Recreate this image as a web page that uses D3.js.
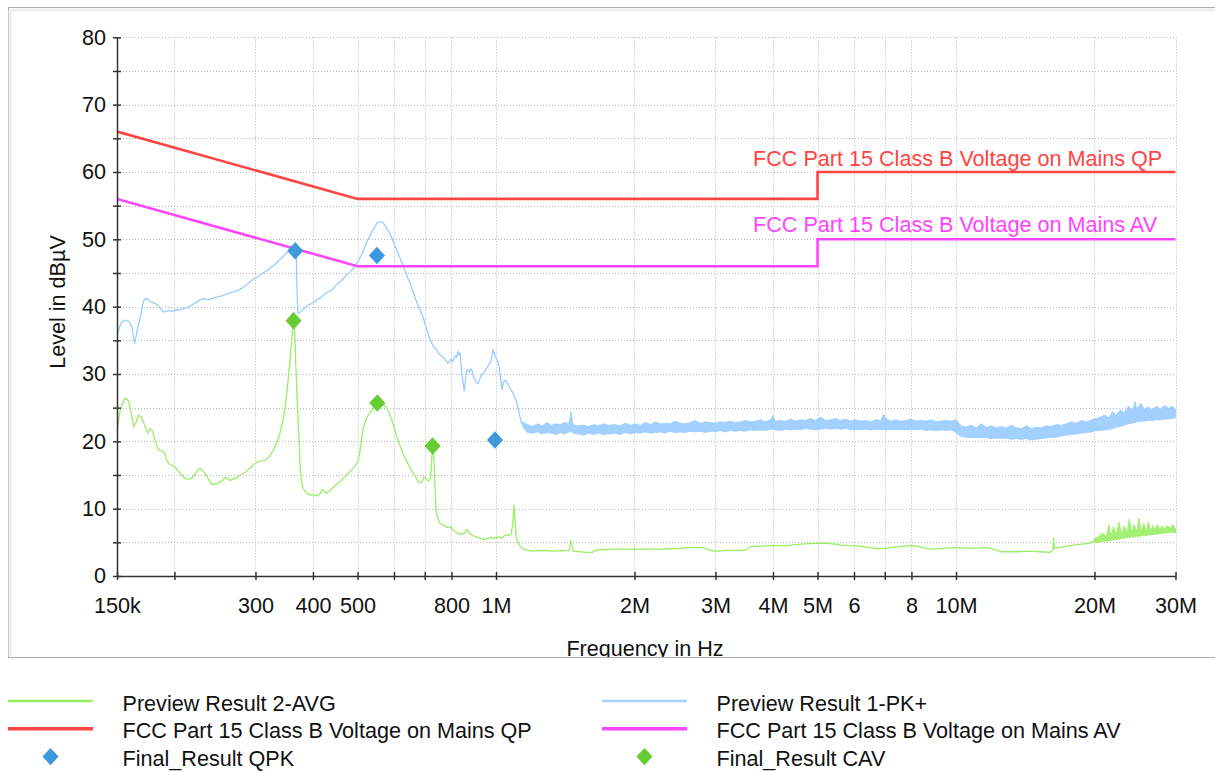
<!DOCTYPE html>
<html>
<head>
<meta charset="utf-8">
<script src="https://cdn.jsdelivr.net/npm/d3@7"></script>
<style>
html, body { margin: 0; padding: 0; background: #ffffff; }
svg { display: block; font-family: "Liberation Sans", Arial, sans-serif; }
</style>
</head>
<body>
<svg id="chart" width="1215" height="771"></svg>
<script>
// ---- Data (frequency in MHz, level in dBµV) ----

// Peak preview scan, smooth low-frequency part
const pkTrace = [
  [0.150,35.7],[0.152,37.0],[0.154,37.8],[0.156,38.0],[0.158,37.9],[0.160,37.7],[0.162,36.8],[0.163,35.2],
  [0.164,34.7],[0.166,36.5],[0.169,38.8],[0.171,40.6],[0.172,41.1],[0.174,41.2],[0.176,40.9],[0.178,40.7],
  [0.181,40.5],[0.184,40.2],[0.186,39.9],[0.188,39.4],[0.190,39.2],[0.194,39.4],[0.197,39.3],[0.201,39.5],
  [0.205,39.5],[0.209,39.7],[0.214,39.9],[0.219,40.3],[0.223,40.6],[0.227,41.0],[0.231,41.2],[0.235,41.0],
  [0.239,41.1],[0.244,41.3],[0.249,41.5],[0.254,41.6],[0.258,41.8],[0.263,42.0],[0.268,42.2],[0.273,42.3],
  [0.278,42.6],[0.284,43.0],[0.290,43.5],[0.296,44.0],[0.303,44.4],[0.310,44.9],[0.317,45.3],[0.324,45.8],
  [0.331,46.3],[0.338,46.9],[0.344,47.4],[0.350,47.9],[0.356,48.4],[0.361,48.8],[0.365,49.0],[0.368,48.6],
  [0.369,43.0],[0.371,39.2],[0.373,39.0],[0.378,39.4],[0.384,39.8],[0.390,40.2],[0.396,40.4],[0.402,40.7],
  [0.408,41.0],[0.415,41.3],[0.422,41.7],[0.429,42.1],[0.436,42.3],[0.442,42.6],[0.449,43.2],[0.456,43.6],
  [0.463,44.0],[0.470,44.5],[0.476,44.9],[0.482,45.2],[0.490,45.7],[0.497,46.4],[0.504,47.0],[0.511,47.8],
  [0.518,48.8],[0.524,49.6],[0.531,50.4],[0.538,51.2],[0.546,51.9],[0.551,52.4],[0.556,52.6],[0.562,52.6],
  [0.568,52.5],[0.574,52.0],[0.581,51.4],[0.588,50.9],[0.596,49.9],[0.604,48.9],[0.611,48.1],[0.618,47.3],
  [0.626,46.3],[0.634,45.3],[0.642,44.4],[0.650,43.5],[0.659,42.4],[0.667,41.3],[0.675,40.4],[0.684,39.5],
  [0.693,38.6],[0.700,37.6],[0.707,36.6],[0.713,35.9],[0.719,35.2],[0.725,34.6],[0.731,34.1],[0.737,33.8],
  [0.745,33.5],[0.752,33.0],[0.760,32.7],[0.768,32.5],[0.775,32.1],[0.781,31.9],[0.786,31.6],[0.792,31.9],
  [0.798,32.2],[0.804,31.8],[0.810,32.3],[0.815,32.7],[0.821,32.5],[0.827,33.3],[0.831,32.9],[0.835,33.1],
  [0.839,31.5],[0.843,30.1],[0.849,28.5],[0.853,27.4],[0.858,29.0],[0.863,30.5],[0.869,30.6],[0.875,30.3],
  [0.881,30.8],[0.887,30.5],[0.893,29.5],[0.900,29.1],[0.907,28.7],[0.914,28.6],[0.921,29.2],[0.929,29.8],
  [0.937,30.1],[0.946,30.4],[0.955,30.9],[0.963,31.3],[0.971,31.6],[0.978,32.3],[0.985,33.6],[0.990,33.2],
  [0.996,32.6],[1.000,32.4],[1.007,32.0],[1.015,31.3],[1.022,29.5],[1.031,27.6],[1.038,28.8],[1.046,29.1],
  [1.054,28.9],[1.062,28.5],[1.070,28.0],[1.078,27.6],[1.089,27.2],[1.100,26.4],[1.111,25.7],[1.120,24.5],
  [1.128,23.6],[1.134,22.9],[1.140,22.6]
];

// Peak preview scan, dense noise floor above 1.14 MHz: [MHz, min, max]
const pkNoiseBand = [
  [1.14,22.3,22.9],[1.17,21.3,22.5],[1.20,21.2,22.2],[1.23,21.4,22.6],[1.26,21.1,22.3],[1.29,21.3,22.8],
  [1.32,21.2,22.4],[1.35,21.0,22.6],[1.38,21.3,22.5],[1.41,21.1,22.8],[1.44,21.4,22.6],[1.455,21.5,24.4],
  [1.47,21.2,22.5],[1.51,21.1,22.3],[1.55,20.9,22.4],[1.59,21.2,22.2],[1.63,21.0,22.5],[1.67,21.2,22.3],
  [1.71,21.0,22.6],[1.76,21.1,22.4],[1.81,21.2,22.5],[1.86,21.0,22.3],[1.91,21.3,22.7],[1.96,21.1,22.4],
  [2.01,21.3,22.6],[2.06,21.2,22.4],[2.11,21.4,22.8],[2.17,21.2,22.5],[2.22,21.3,22.9],[2.28,21.4,22.6],
  [2.33,21.2,22.7],[2.39,21.5,22.6],[2.45,21.3,23.0],[2.52,21.4,22.7],[2.58,21.3,22.6],[2.64,21.5,22.8],
  [2.71,21.4,23.1],[2.78,21.5,22.7],[2.85,21.3,22.9],[2.92,21.5,22.8],[3.00,21.4,22.7],[3.07,21.6,22.9],
  [3.15,21.4,22.8],[3.23,21.6,23.0],[3.31,21.5,22.8],[3.40,21.6,22.9],[3.48,21.5,23.1],[3.57,21.7,22.9],
  [3.66,21.6,23.0],[3.76,21.7,23.2],[3.85,21.6,22.9],[3.95,21.8,23.2],[4.00,21.8,23.8],[4.05,21.7,23.0],
  [4.15,21.6,23.1],[4.26,21.8,23.0],[4.37,21.7,23.3],[4.48,21.8,23.0],[4.59,21.7,23.2],[4.71,21.9,23.1],
  [4.83,21.8,23.4],[4.95,21.7,23.1],[5.08,21.8,23.6],[5.21,21.9,23.1],[5.34,21.8,23.2],[5.48,21.9,23.4],
  [5.61,21.8,23.1],[5.76,21.9,23.3],[5.90,21.7,23.0],[6.05,21.8,23.2],[6.21,21.7,23.0],[6.37,21.8,23.1],
  [6.53,21.7,22.9],[6.69,21.8,23.2],[6.86,21.7,23.1],[6.96,21.8,24.0],[7.04,21.7,23.4],[7.22,21.8,23.0],
  [7.40,21.7,23.2],[7.59,21.8,23.0],[7.78,21.7,23.1],[7.98,21.8,23.3],[8.18,21.7,23.0],[8.39,21.8,23.1],
  [8.61,21.6,23.0],[8.82,21.7,23.2],[9.05,21.6,22.9],[9.28,21.7,23.0],[9.51,21.6,23.1],[9.76,21.7,23.0],
  [10.0,21.3,23.2],[10.26,20.7,22.3],[10.52,20.6,22.1],[10.79,20.5,22.4],[11.06,20.6,22.0],[11.34,20.5,22.6],
  [11.63,20.6,22.1],[11.93,20.4,22.3],[12.23,20.5,22.0],[12.54,20.4,22.2],[12.86,20.5,22.0],[13.19,20.3,22.4],
  [13.52,20.4,22.0],[13.87,20.3,21.9],[14.22,20.4,22.3],[14.58,20.2,21.9],[14.95,20.3,22.1],[15.33,20.4,22.0],
  [15.72,20.5,22.3],[16.12,20.6,22.2],[16.53,20.6,22.5],[16.95,20.8,22.4],[17.38,20.9,22.6],[17.82,21.0,22.9],
  [18.28,21.1,22.7],[18.74,21.2,23.1],[19.22,21.3,22.9],[19.70,21.4,23.2],[20.2,21.6,23.4],[20.6,21.6,23.6],
  [21.0,21.7,23.9],[21.5,21.8,23.5],[21.9,21.9,24.4],[22.3,22.1,23.9],[22.8,22.2,24.7],[23.2,22.4,24.2],
  [23.7,22.6,25.2],[24.2,22.7,24.6],[24.5,22.8,25.9],[24.7,22.9,24.8],[25.2,23.0,25.6],[25.7,23.0,24.8],
  [26.2,23.1,25.1],[26.7,23.1,24.7],[27.3,23.2,25.2],[27.8,23.2,24.8],[28.4,23.3,25.3],[29.0,23.3,24.9],
  [29.5,23.4,25.2],[30.0,23.5,24.8]
];

// Average preview scan up to 20 MHz
const avgTrace = [
  [0.150,21.4],[0.152,24.2],[0.154,25.6],[0.156,26.4],[0.158,26.2],[0.159,25.9],[0.161,24.2],[0.163,22.2],
  [0.165,22.8],[0.167,23.9],[0.169,23.7],[0.171,23.0],[0.173,22.0],[0.175,21.2],[0.177,21.9],[0.179,21.6],
  [0.181,20.4],[0.183,19.4],[0.185,18.7],[0.188,18.6],[0.190,18.4],[0.192,17.3],[0.195,16.6],[0.198,16.4],
  [0.201,16.1],[0.204,15.5],[0.207,15.0],[0.210,14.6],[0.213,14.4],[0.216,14.4],[0.219,14.6],[0.222,15.2],
  [0.225,15.8],[0.227,16.0],[0.230,15.7],[0.233,15.2],[0.237,14.4],[0.241,13.6],[0.246,13.7],[0.251,13.9],
  [0.255,14.3],[0.258,14.6],[0.261,14.5],[0.264,14.2],[0.268,14.4],[0.273,14.6],[0.278,15.0],[0.285,15.4],
  [0.292,16.0],[0.298,16.6],[0.304,17.0],[0.310,17.1],[0.315,17.2],[0.322,17.8],[0.328,18.7],[0.334,19.8],
  [0.339,21.2],[0.344,23.0],[0.348,25.1],[0.352,28.0],[0.355,30.6],[0.358,33.3],[0.360,35.5],[0.362,37.0],
  [0.364,37.6],[0.366,34.5],[0.367,31.6],[0.370,25.5],[0.373,20.2],[0.375,16.5],[0.377,14.3],[0.380,13.2],
  [0.384,12.6],[0.390,12.2],[0.398,12.0],[0.404,12.0],[0.410,11.9],[0.415,12.3],[0.419,12.8],[0.423,12.6],
  [0.427,12.3],[0.434,12.6],[0.442,13.1],[0.450,13.6],[0.458,14.0],[0.465,14.5],[0.473,15.0],[0.482,15.5],
  [0.490,16.1],[0.497,16.6],[0.501,17.0],[0.506,18.5],[0.511,20.5],[0.516,22.2],[0.523,23.4],[0.531,24.2],
  [0.540,24.8],[0.551,25.4],[0.561,25.5],[0.571,25.4],[0.580,24.9],[0.590,23.7],[0.598,22.5],[0.608,20.8],
  [0.618,19.4],[0.628,18.2],[0.639,17.1],[0.649,16.2],[0.660,15.3],[0.670,14.6],[0.680,13.9],[0.690,13.9],
  [0.698,14.7],[0.705,14.5],[0.712,14.1],[0.718,14.3],[0.721,14.7],[0.725,17.5],[0.728,19.0],[0.731,18.5],
  [0.735,15.5],[0.738,12.0],[0.742,9.3],[0.749,8.4],[0.756,7.8],[0.765,7.6],[0.775,7.5],[0.785,7.2],
  [0.794,7.3],[0.805,6.9],[0.815,6.6],[0.825,6.3],[0.840,6.2],[0.856,6.4],[0.862,6.9],[0.869,6.8],
  [0.877,6.3],[0.889,6.0],[0.899,5.9],[0.915,5.7],[0.930,5.5],[0.942,5.4],[0.958,5.6],[0.972,5.7],
  [0.985,5.6],[1.000,5.7],[1.015,5.8],[1.028,5.6],[1.040,5.9],[1.046,6.1],[1.060,6.0],[1.078,6.2],
  [1.088,7.8],[1.094,10.6],[1.100,8.0],[1.106,5.8],[1.115,5.0],[1.131,4.35],[1.150,4.0],[1.174,3.8],
  [1.20,3.7],[1.23,3.75],[1.27,3.8],[1.32,3.7],[1.38,3.75],[1.44,3.8],[1.455,5.3],[1.47,3.7],
  [1.52,3.6],[1.58,3.5],[1.62,3.5],[1.66,3.9],[1.72,3.9],[1.80,4.0],[1.90,4.0],[2.00,3.95],
  [2.10,4.0],[2.27,4.0],[2.40,4.05],[2.51,4.1],[2.60,4.2],[2.75,4.2],[2.82,4.2],[2.87,4.0],
  [2.96,3.75],[3.05,3.7],[3.20,3.8],[3.40,3.8],[3.50,3.9],[3.57,4.35],[3.70,4.4],[4.00,4.5],
  [4.30,4.5],[4.51,4.7],[4.80,4.8],[5.00,4.85],[5.20,4.9],[5.30,4.8],[5.45,4.75],[5.60,4.6],
  [5.90,4.5],[6.18,4.45],[6.50,4.2],[6.70,4.1],[7.00,4.1],[7.20,4.2],[7.60,4.4],[8.00,4.5],
  [8.30,4.4],[8.60,4.1],[8.80,4.0],[9.30,4.1],[10.0,4.2],[10.8,4.1],[11.5,4.2],[11.9,4.1],
  [12.3,3.8],[12.5,3.6],[13.5,3.6],[14.5,3.7],[15.2,3.6],[16.0,3.5],[16.25,3.9],[16.3,5.7],
  [16.35,4.1],[17.0,4.3],[17.7,4.5],[18.5,4.7],[19.5,4.85],[20.0,5.25]
];

// Average preview scan, dense noisy part 20-30 MHz: [MHz, min, max]
const avgNoiseBand = [
  [20.0,4.9,5.6],[20.4,5.0,5.8],[20.8,5.1,6.4],[21.2,5.2,5.9],[21.5,5.2,7.6],[21.7,5.3,6.0],
  [22.0,5.4,7.3],[22.3,5.4,6.1],[22.6,5.5,8.0],[22.9,5.6,6.2],[23.2,5.6,7.4],[23.5,5.7,6.3],
  [23.8,5.7,8.4],[24.1,5.8,6.4],[24.4,5.8,7.6],[24.7,5.9,6.5],[25.0,5.9,8.6],[25.3,6.0,6.6],
  [25.6,6.0,7.8],[25.9,6.0,6.6],[26.2,6.1,8.0],[26.5,6.1,6.7],[26.8,6.2,7.5],[27.1,6.2,6.8],
  [27.4,6.2,7.7],[27.7,6.3,6.9],[28.0,6.3,7.4],[28.4,6.4,7.0],[28.8,6.4,7.5],[29.2,6.5,7.1],
  [29.6,6.5,7.6],[30.0,6.4,7.0]
];

// FCC Part 15 Class B conducted limits on mains
const qpLimit = [[0.15,66],[0.5,56],[5,56],[5,60],[30,60]];
const avLimit = [[0.15,56],[0.5,46],[5,46],[5,50],[30,50]];

// Final measurements
const qpkFinal = [[0.366,48.3],[0.551,47.6],[0.995,20.2]];
const cavFinal = [[0.363,37.9],[0.552,25.7],[0.728,19.3]];

// Axis ticks
const xTickValues = [0.15,0.2,0.3,0.4,0.5,0.6,0.7,0.8,1,2,3,4,5,6,7,8,10,20,30];
const xTickLabels = ["150k","","300","400","500","","","800","1M","2M","3M","4M","5M","6","","8","10M","20M","30M"];
const yTickValues = [0,5,10,15,20,25,30,35,40,45,50,55,60,65,70,75,80];

// ---- Styles ----
const colors = {
  avg: "#99ee66",
  pk: "#99ccff",
  qp: "#ff4444",
  av: "#ff44ff",
  qpk: "#3d98de",
  cav: "#66cc33"
};
const FONT = "21.6px";

// ---- Drawing ----
const svg = d3.select("#chart");
const plot = { left: 117, right: 1175.5, top: 37.3, bottom: 576 };

const x = d3.scaleLog().domain([0.15, 30]).range([plot.left, plot.right]);
const y = d3.scaleLinear().domain([0, 80]).range([plot.bottom, plot.top]);

// Panel frame
svg.append("rect").attr("x", 8.5).attr("y", 7.5).attr("width", 1220).attr("height", 650)
  .attr("fill", "#ffffff").attr("stroke", "#aaaaaa").attr("stroke-width", 1);
svg.append("path").attr("d", "M10,10 H1215 M10,10 V656")
  .attr("stroke", "#eeeeee").attr("stroke-width", 3).attr("fill", "none");

const defs = svg.append("defs");
defs.append("clipPath").attr("id", "plotClip").append("rect")
  .attr("x", plot.left).attr("y", plot.top - 2)
  .attr("width", plot.right - plot.left + 1).attr("height", plot.bottom - plot.top + 2);
defs.append("clipPath").attr("id", "panelClip").append("rect")
  .attr("x", 9).attr("y", 8).attr("width", 1206).attr("height", 649);

// Grid
const grid = svg.append("g").attr("stroke", "#b8b8b8").attr("stroke-width", 1)
  .attr("stroke-dasharray", "1,2").attr("fill", "none");
grid.selectAll("line.v").data(xTickValues.filter(d => d > 0.15)).join("line")
  .attr("class", "v")
  .attr("x1", d => Math.round(x(d)) + 0.5).attr("x2", d => Math.round(x(d)) + 0.5)
  .attr("y1", y(80)).attr("y2", y(0));
grid.selectAll("line.h").data(yTickValues.filter(d => d > 0)).join("line")
  .attr("class", "h")
  .attr("x1", plot.left).attr("x2", plot.right)
  .attr("y1", d => Math.round(y(d)) + 0.5).attr("y2", d => Math.round(y(d)) + 0.5);

// Traces
const traces = svg.append("g").attr("clip-path", "url(#plotClip)");
const line = d3.line().x(d => x(d[0])).y(d => y(d[1]));
const band = d3.area().x(d => x(d[0])).y0(d => y(d[1])).y1(d => y(d[2]));

traces.append("path").datum(avgTrace).attr("d", line)
  .attr("fill", "none").attr("stroke", colors.avg).attr("stroke-width", 1.3);
traces.append("path").datum(avgNoiseBand).attr("d", band)
  .attr("fill", colors.avg).attr("fill-opacity", 0.9)
  .attr("stroke", colors.avg).attr("stroke-width", 0.8);

traces.append("path").datum(pkTrace).attr("d", line)
  .attr("fill", "none").attr("stroke", colors.pk).attr("stroke-width", 1.3);
traces.append("path").datum(pkNoiseBand).attr("d", band)
  .attr("fill", colors.pk).attr("fill-opacity", 0.9)
  .attr("stroke", colors.pk).attr("stroke-width", 0.8);

// Limit lines
traces.append("path").datum(qpLimit).attr("d", line)
  .attr("fill", "none").attr("stroke", colors.qp).attr("stroke-width", 2.6);
traces.append("path").datum(avLimit).attr("d", line)
  .attr("fill", "none").attr("stroke", colors.av).attr("stroke-width", 2.6);

// Limit labels
svg.append("text").attr("x", 753).attr("y", y(60) - 6.2)
  .attr("fill", colors.qp).style("font-size", FONT)
  .text("FCC Part 15 Class B Voltage on Mains QP");
svg.append("text").attr("x", 753).attr("y", y(50) - 7)
  .attr("fill", colors.av).style("font-size", FONT)
  .text("FCC Part 15 Class B Voltage on Mains AV");

// Axes
const xAxis = d3.axisBottom(x).tickValues(xTickValues)
  .tickFormat((d, i) => xTickLabels[i]).tickSizeInner(4).tickSizeOuter(0);
const gx = svg.append("g").attr("transform", `translate(0,${plot.bottom})`).call(xAxis);
gx.selectAll(".tick line").attr("y1", -4).attr("y2", 4);
gx.selectAll(".tick text").attr("y", 21.5);

const yAxis = d3.axisLeft(y).tickValues(yTickValues)
  .tickFormat(d => (d % 10 === 0 ? d : "")).tickSizeInner(4).tickSizeOuter(0);
const gy = svg.append("g").attr("transform", `translate(${plot.left},0)`).call(yAxis);
gy.selectAll(".tick line").attr("x1", -4).attr("x2", 4);
gy.selectAll(".tick text").attr("x", -11);

[gx, gy].forEach(g => {
  g.attr("font-family", null).attr("font-size", null);
  g.selectAll("text").style("font-size", FONT).attr("fill", "#111111");
  g.selectAll("line").attr("stroke", "#333333").attr("stroke-width", 1.5);
  g.select(".domain").attr("stroke", "#333333").attr("stroke-width", 1.5);
});

// Final result markers
const diamondShape = {
  draw(ctx, size) {
    const r = Math.sqrt(size / 2);
    ctx.moveTo(0, -r * 1.08);
    ctx.lineTo(r, 0);
    ctx.lineTo(0, r * 1.08);
    ctx.lineTo(-r, 0);
    ctx.closePath();
  }
};
const diamond = d3.symbol().type(diamondShape).size(130);

svg.append("g").selectAll("path").data(qpkFinal).join("path")
  .attr("transform", d => `translate(${x(d[0])},${y(d[1])})`)
  .attr("d", diamond).attr("fill", colors.qpk);
svg.append("g").selectAll("path").data(cavFinal).join("path")
  .attr("transform", d => `translate(${x(d[0])},${y(d[1])})`)
  .attr("d", diamond).attr("fill", colors.cav);

// Axis titles
svg.append("text").attr("transform", "translate(64.5,302) rotate(-90)")
  .attr("text-anchor", "middle").style("font-size", FONT).attr("fill", "#111111")
  .text("Level in dBµV");
svg.append("g").attr("clip-path", "url(#panelClip)")
  .append("text").attr("x", 645).attr("y", 655.5)
  .attr("text-anchor", "middle").style("font-size", FONT).attr("fill", "#111111")
  .text("Frequency in Hz");

// Legend
const legendItems = [
  { label: "Preview Result 2-AVG", color: colors.avg, kind: "line", w: 2.6, col: 0, row: 0 },
  { label: "Preview Result 1-PK+", color: "#a8d0f8", kind: "line", w: 2.6, col: 1, row: 0 },
  { label: "FCC Part 15 Class B Voltage on Mains QP", color: colors.qp, kind: "line", w: 3.6, col: 0, row: 1 },
  { label: "FCC Part 15 Class B Voltage on Mains AV", color: colors.av, kind: "line", w: 3.6, col: 1, row: 1 },
  { label: "Final_Result QPK", color: colors.qpk, kind: "marker", col: 0, row: 2 },
  { label: "Final_Result CAV", color: colors.cav, kind: "marker", col: 1, row: 2 }
];
const legendCols = [8, 602];
const legendRows = [701, 728.8, 756.6];
const legend = svg.append("g");
legendItems.forEach(item => {
  const lx = legendCols[item.col], ly = legendRows[item.row];
  const g = legend.append("g").attr("transform", `translate(${lx},${ly})`);
  if (item.kind === "line") {
    g.append("line").attr("x1", 0).attr("x2", 85).attr("y1", 0).attr("y2", 0)
      .attr("stroke", item.color).attr("stroke-width", item.w);
  } else {
    g.append("path").attr("transform", "translate(42.5,0)")
      .attr("d", diamond).attr("fill", item.color);
  }
  g.append("text").attr("x", 114.5).attr("y", 9.5)
    .style("font-size", FONT).attr("fill", "#111111").text(item.label);
});
</script>
</body>
</html>
